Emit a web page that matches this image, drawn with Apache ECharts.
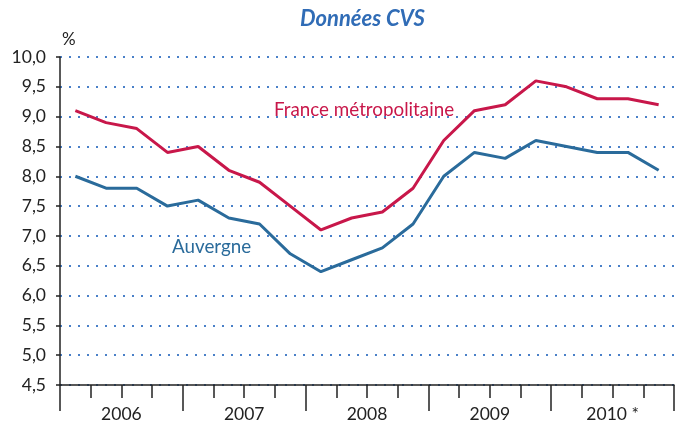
<!DOCTYPE html>
<html>
<head>
<meta charset="utf-8">
<script src="https://cdn.jsdelivr.net/npm/echarts@6/dist/echarts.min.js"></script>
<style>
html,body{margin:0;padding:0;background:#fff;}
#c{width:676px;height:423px;}
</style>
</head>
<body>
<div id="c"></div>
<script>
const quarters = ['2006T1','2006T2','2006T3','2006T4','2007T1','2007T2','2007T3','2007T4','2008T1','2008T2','2008T3','2008T4','2009T1','2009T2','2009T3','2009T4','2010T1','2010T2','2010T3','2010T4'];
const years = ['2006','2007','2008','2009','2010 *'];
const france = [9.1, 8.9, 8.8, 8.4, 8.5, 8.1, 7.9, 7.5, 7.1, 7.3, 7.4, 7.8, 8.6, 9.1, 9.2, 9.6, 9.5, 9.3, 9.3, 9.2];
const auvergne = [8.0, 7.8, 7.8, 7.5, 7.6, 7.3, 7.2, 6.7, 6.4, 6.6, 6.8, 7.2, 8.0, 8.4, 8.3, 8.6, 8.5, 8.4, 8.4, 8.1];

const FONT = 'Lato';
const chart = echarts.init(document.getElementById('c'), null, {renderer:'canvas'});
chart.setOption({
  animation:false,
  backgroundColor:'#fff',
  textStyle:{fontFamily:FONT},
  grid:{left:60, right:2, top:57, bottom:36, containLabel:false},
  xAxis:[{
    type:'category', data:quarters, boundaryGap:true,
    axisLine:{lineStyle:{color:'#222', width:1.5}},
    axisTick:{show:true, interval:0, length:13, lineStyle:{color:'#222', width:1.5}},
    axisLabel:{show:false},
    splitLine:{show:false}
  },{
    type:'category', data:years, boundaryGap:true, position:'bottom',
    axisLine:{show:false},
    axisTick:{show:true, interval:0, length:26, lineStyle:{color:'#222', width:1.5}},
    axisLabel:{show:true, interval:0, margin:20, fontSize:17.5, color:'#222', fontFamily:FONT},
    splitLine:{show:false}
  }],
  yAxis:{
    type:'value', min:4.5, max:10, interval:0.5,
    axisLine:{show:true, lineStyle:{color:'#222', width:1.5}},
    axisTick:{show:true, length:4, lineStyle:{color:'#222', width:1.5}},
    axisLabel:{fontSize:17.5, color:'#222', margin:14, fontFamily:FONT,
      formatter:v=>v.toFixed(1).replace('.',',')},
    splitLine:{show:true, lineStyle:{color:'#4a80c8', width:2, type:[2,7]}}
  },
  series:[{
    name:'France métropolitaine', type:'line', data:france, xAxisIndex:0,
    symbol:'none', lineStyle:{color:'#c8174a', width:3}, z:3
  },{
    name:'Auvergne', type:'line', data:auvergne, xAxisIndex:0,
    symbol:'none', lineStyle:{color:'#2a6b9b', width:3}, z:3
  }],
  graphic:[
    {type:'text', left:300, top:8, style:{text:'Données CVS', fill:'#306cb6', font:'italic bold 22px '+FONT}},
    {type:'text', left:62, top:31, style:{text:'%', fill:'#222', font:'17px '+FONT}},
    {type:'text', left:274, top:100, style:{text:'France métropolitaine', fill:'#c8174a', font:'18.8px '+FONT}},
    {type:'text', left:172, top:237, style:{text:'Auvergne', fill:'#2a6b9b', font:'18.8px '+FONT}}
  ]
});
</script>
</body>
</html>
